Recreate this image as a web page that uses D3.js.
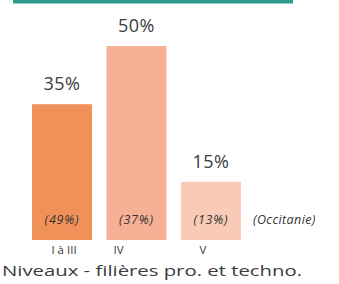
<!DOCTYPE html>
<html>
<head>
<meta charset="utf-8">
<script src="https://cdn.jsdelivr.net/npm/d3@7"></script>
<style>
  html, body { margin: 0; padding: 0; background: #fff; }
  svg { display: block; font-family: "Open Sans", sans-serif; }
</style>
</head>
<body>
<div id="chart"></div>
<script>
// chart data
const categories = ['I à III', 'IV', 'V'];
const shares = [35, 50, 15];
const regionShares = [49, 37, 13];
const barColors = ['#f0915a', '#f5b095', '#f9cab6'];
const regionLabel = '(Occitanie)';
const axisTitle = 'Niveaux - filières pro. et techno.';

const width = 339;
const height = 284;

const svg = d3.select('#chart').append('svg')
    .attr('width', width)
    .attr('height', height);

// teal band at the top (cropped header)
svg.append('rect')
    .attr('x', 13)
    .attr('y', 0)
    .attr('width', 280)
    .attr('height', 3.5)
    .attr('fill', '#2e9c8b');

const xScale = d3.scaleBand()
    .domain(categories)
    .range([24.75, 248.25])
    .paddingInner(0.195)
    .paddingOuter(0.0975);

const yScale = d3.scaleLinear()
    .domain([0, 50])
    .range([240, 46]);

// bars
svg.selectAll('.bar')
    .data(categories)
    .enter()
    .append('rect')
    .attr('class', 'bar')
    .attr('x', d => xScale(d))
    .attr('y', (d, i) => yScale(shares[i]))
    .attr('width', xScale.bandwidth())
    .attr('height', (d, i) => yScale(0) - yScale(shares[i]))
    .attr('fill', (d, i) => barColors[i]);

// value labels
svg.selectAll('.value')
    .data(categories)
    .enter()
    .append('text')
    .attr('class', 'value')
    .attr('x', d => xScale(d) + xScale.bandwidth() / 2)
    .attr('y', (d, i) => yScale(shares[i]) - 14)
    .attr('text-anchor', 'middle')
    .style('font-size', '18px')
    .style('letter-spacing', '0.5px')
    .attr('fill', '#3b3b3b')
    .text((d, i) => shares[i] + '%');

// regional comparison inside bars
svg.selectAll('.region')
    .data(categories)
    .enter()
    .append('text')
    .attr('class', 'region')
    .attr('x', d => xScale(d) + xScale.bandwidth() / 2)
    .attr('y', yScale(0) - 16)
    .attr('text-anchor', 'middle')
    .style('font-size', '12.5px')
    .style('font-style', 'italic')
    .style('letter-spacing', '0.8px')
    .attr('fill', '#333')
    .text((d, i) => '(' + regionShares[i] + '%)');

svg.append('text')
    .attr('x', 253)
    .attr('y', yScale(0) - 16)
    .style('font-size', '12.5px')
    .style('font-style', 'italic')
    .style('letter-spacing', '0.4px')
    .attr('fill', '#333')
    .text(regionLabel);

// category axis
const labelShift = [2, -18, -8];
const xAxis = svg.append('g')
    .attr('transform', `translate(0,${yScale(0)})`)
    .call(d3.axisBottom(xScale).tickSize(0).tickPadding(6));
xAxis.select('.domain').remove();
xAxis.selectAll('text')
    .attr('dx', (d, i) => labelShift[i])
    .style('font-family', '"Open Sans", sans-serif')
    .style('font-size', '11.5px')
    .attr('fill', '#3b3b3b');

svg.append('text')
    .attr('x', 152)
    .attr('y', 276)
    .attr('text-anchor', 'middle')
    .attr('textLength', 300)
    .attr('lengthAdjust', 'spacingAndGlyphs')
    .style('font-size', '14px')
    .attr('fill', '#3b3b3b')
    .text(axisTitle);
</script>
</body>
</html>
